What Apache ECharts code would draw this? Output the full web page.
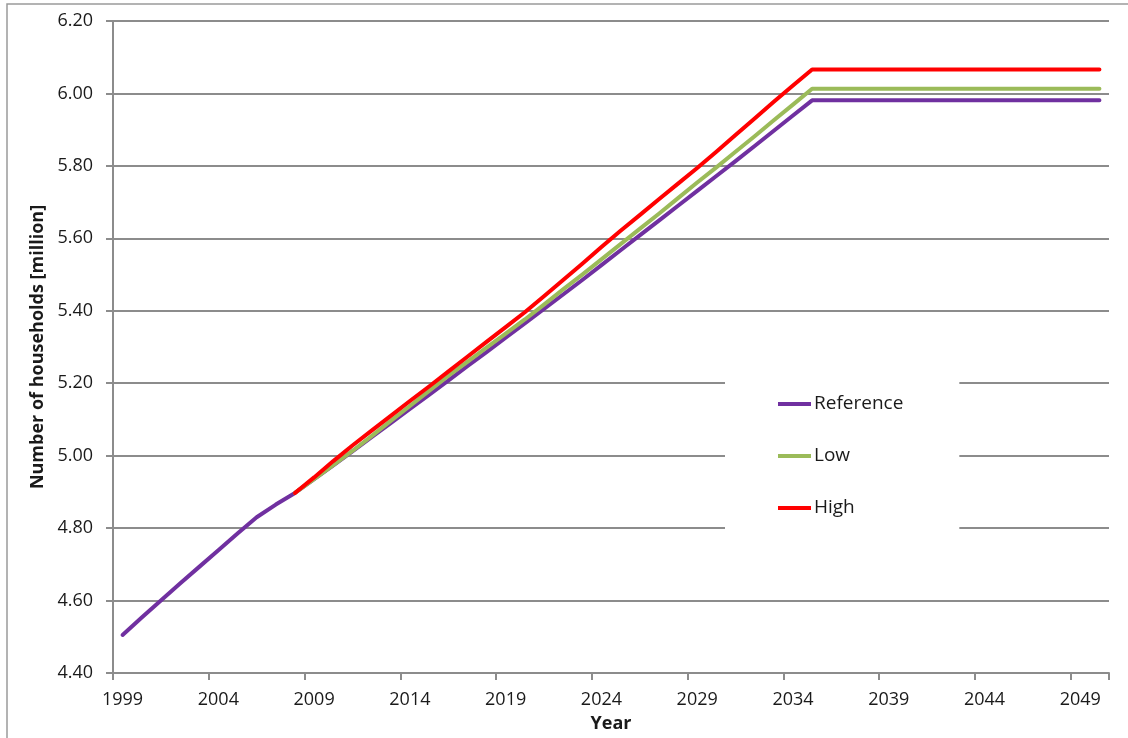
<!DOCTYPE html>
<html>
<head>
<meta charset="utf-8">
<script src="https://cdn.jsdelivr.net/npm/echarts@6/dist/echarts.min.js"></script>
<style>
html,body{margin:0;padding:0;background:#fff;}
#chart{width:1128px;height:738px;}
</style>
</head>
<body>
<div id="chart"></div>
<script>
var years = [];
for (var y = 1999; y <= 2050; y++) years.push(String(y));

var reference = [4.505,4.553,4.600,4.647,4.693,4.739,4.785,4.830,4.865,4.897,
  4.935,4.973,5.012,5.051,5.090,5.129,5.168,5.207,5.247,5.286,
  5.326,5.365,5.405,5.445,5.485,5.526,5.567,5.608,5.649,5.690,
  5.731,5.772,5.813,5.855,5.897,5.939,5.981,
  5.981,5.981,5.981,5.981,5.981,5.981,5.981,5.981,5.981,5.981,5.981,5.981,5.981,5.981,5.981];

var low = [null,null,null,null,null,null,null,null,null,4.897,
  4.935,4.974,5.013,5.054,5.096,5.137,5.179,5.220,5.259,5.298,
  5.337,5.376,5.417,5.459,5.500,5.542,5.584,5.626,5.668,5.711,
  5.754,5.796,5.839,5.882,5.926,5.969,6.013,
  6.013,6.013,6.013,6.013,6.013,6.013,6.013,6.013,6.013,6.013,6.013,6.013,6.013,6.013,6.013];

var high = [null,null,null,null,null,null,null,null,null,4.897,
  4.940,4.985,5.028,5.069,5.110,5.151,5.191,5.232,5.273,5.314,
  5.355,5.396,5.440,5.485,5.530,5.576,5.621,5.664,5.708,5.751,
  5.794,5.839,5.885,5.931,5.977,6.022,6.066,
  6.066,6.066,6.066,6.066,6.066,6.066,6.066,6.066,6.066,6.066,6.066,6.066,6.066,6.066,6.066];

var seriesNames = ['Reference','Low','High'];
var seriesColors = ['#7030A0','#9BBB59','#FF0000'];
var seriesData = [reference, low, high];

var FONT = 'Open Sans';
var TXT = '#1a1a1a';
var GRID_C = '#8c8c8c';

var chart = echarts.init(document.getElementById('chart'));
chart.setOption({
  animation: false,
  backgroundColor: '#fff',
  textStyle: {fontFamily: FONT},
  graphic: [{
    type: 'rect', z: -10, silent: true,
    shape: {x: 7, y: 4, width: 1200, height: 800},
    style: {fill: 'none', stroke: '#9a9a9a', lineWidth: 1.5}
  }],
  grid: {left: 113, right: 19, top: 21, bottom: 64, containLabel: false},
  legend: {
    orient: 'vertical',
    left: 725, top: 360,
    padding: [34, 56, 37, 53],
    backgroundColor: '#fff',
    itemWidth: 33, itemHeight: 4, itemGap: 32,
    icon: 'rect',
    data: seriesNames,
    textStyle: {fontFamily: FONT, fontSize: 19, color: TXT, padding: [0,0,0,-2], lineHeight: 20}
  },
  xAxis: {
    type: 'category',
    data: years,
    boundaryGap: true,
    name: 'Year',
    nameLocation: 'middle',
    nameGap: 42,
    nameTextStyle: {fontFamily: FONT, fontWeight: 'bold', fontSize: 18, color: TXT},
    axisLine: {lineStyle: {color: GRID_C, width: 2}},
    axisTick: {show: true, interval: 4, length: 7, lineStyle: {color: GRID_C, width: 2}},
    axisLabel: {interval: 4, margin: 18, fontFamily: FONT, fontSize: 18, color: TXT},
    splitLine: {show: false}
  },
  yAxis: {
    type: 'value',
    min: 4.4, max: 6.2, interval: 0.2,
    name: 'Number of households [million]',
    nameLocation: 'middle',
    nameGap: 66,
    nameTextStyle: {fontFamily: FONT, fontWeight: 'bold', fontSize: 18, color: TXT},
    axisLine: {show: true, lineStyle: {color: GRID_C, width: 2}},
    axisTick: {show: true, length: 7, lineStyle: {color: GRID_C, width: 2}},
    axisLabel: {margin: 20, fontFamily: FONT, fontSize: 18, color: TXT,
      formatter: function (v) { return v.toFixed(2); }},
    splitLine: {show: true, lineStyle: {color: GRID_C, width: 2}}
  },
  series: seriesNames.map(function (n, i) {
    return {
      name: n, type: 'line', data: seriesData[i],
      showSymbol: false, symbol: 'none',
      connectNulls: false,
      lineStyle: {color: seriesColors[i], width: 4, cap: 'round', join: 'round'},
      itemStyle: {color: seriesColors[i]},
      z: 3 + i
    };
  })
});
</script>
</body>
</html>
